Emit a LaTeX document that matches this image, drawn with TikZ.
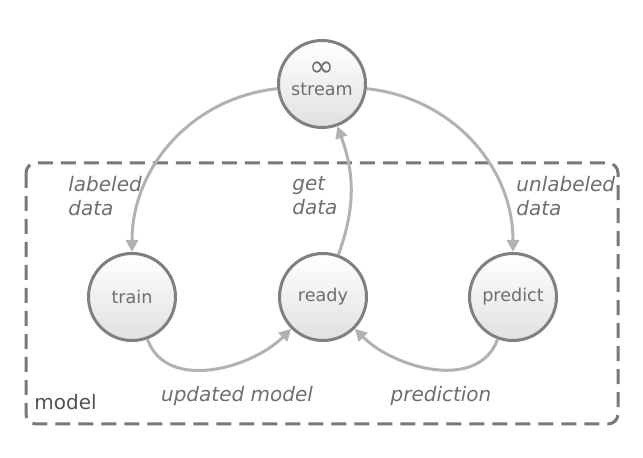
\documentclass[tikz,border=0pt]{standalone}
\usepackage{fontspec}
\setmainfont{DejaVu Sans}
\usetikzlibrary{arrows.meta}
\definecolor{stategray}{RGB}{128,128,128}
\definecolor{flowgray}{RGB}{178,178,178}
\definecolor{textgray}{RGB}{110,110,110}
\definecolor{boxgray}{RGB}{120,120,120}
\tikzset{%
    state/.style={%
        circle,%
        draw=stategray,%
        line width=1.5pt,%
        minimum size=43.5pt,%
        inner sep=0pt,%
        top color=white,%
        bottom color=black!12,%
        text=textgray%
    },%
    flow/.style={%
        draw=flowgray,%
        line width=1.5pt,%
        -{Triangle[length=6pt,width=6pt]}%
    },%
    note/.style={%
        font=\itshape,%
        text=textgray,%
        align=left,%
        inner sep=0pt%
    }%
}

\begin{document}
\begin{tikzpicture}[x=0.5pt,y=0.5pt,font=\fontsize{8.8}{11.5}\selectfont]
    \useasboundingbox (0,0) rectangle (643,-458);
    \draw[boxgray, line width=1.5pt, dash pattern=on 7.5pt off 4pt, rounded corners=5pt]
        (26,-163) rectangle (618,-424);
    \node[anchor=west, text=black!68, inner sep=0pt, font=\fontsize{10}{12}\selectfont] (model) at (34,-402) {model};
    \node[state, align=center] (stream) at (322,-84)
        {{\fontsize{15}{15}\selectfont ∞}\\[-2pt]stream\\[-6.5pt]\mbox{}};
    \node[state] (train) at (132,-297) {train};
    \node[state] (ready) at (323,-297) {ready};
    \node[state] (predict) at (513,-297) {predict};
    \node[note, anchor=west] (labeled) at (68,-196) {labeled\\data};
    \node[note, anchor=west] (get) at (292,-196) {get\\data};
    \node[note, anchor=west] (unlabeled) at (516,-196) {unlabeled\\data};
    \node[note] (updated) at (237,-396) {updated model};
    \node[note] (prediction) at (441,-396) {prediction};
    \draw[flow] (stream) to[out=186, in=90] (train);
    \draw[flow] (stream) to[out=-6, in=90] (predict);
    \draw[flow] (ready) to[out=70, in=-70] (stream);
    \draw[flow] (train) to[out=-70, in=-135] (ready);
    \draw[flow] (predict) to[out=-110, in=-45] (ready);
\end{tikzpicture}
\end{document}
